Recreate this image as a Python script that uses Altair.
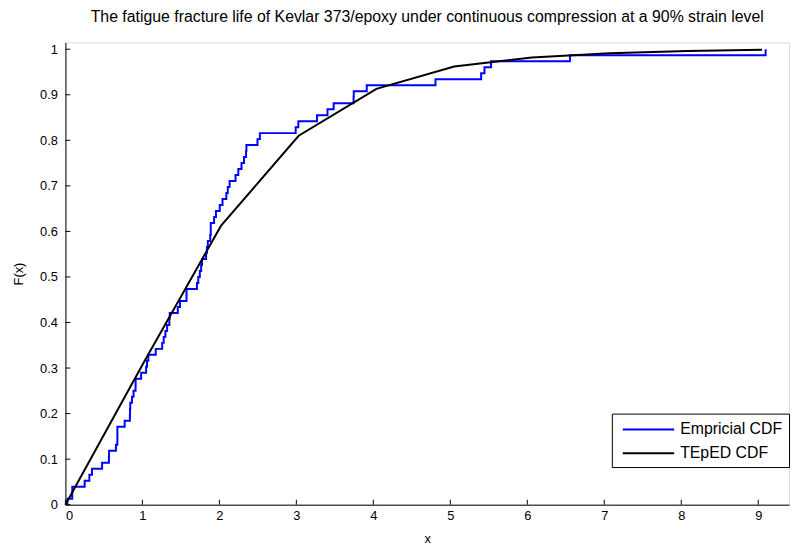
import altair as alt
import pandas as pd

# Kevlar 373/epoxy fatigue fracture life (90% strain level), sorted
fatigue_life = [
    0.0251, 0.0886, 0.0891, 0.2501, 0.3113, 0.3451, 0.4763, 0.5650, 0.5671, 0.6566,
    0.6748, 0.6751, 0.6753, 0.7696, 0.8375, 0.8391, 0.8425, 0.8645, 0.8851, 0.9113,
    0.9120, 0.9836, 1.0483, 1.0596, 1.0773, 1.1733, 1.2570, 1.2766, 1.2985, 1.3211,
    1.3503, 1.3551, 1.4595, 1.4880, 1.5728, 1.5733, 1.7083, 1.7263, 1.7460, 1.7630,
    1.7746, 1.8275, 1.8375, 1.8503, 1.8808, 1.8878, 1.8881, 1.9316, 1.9558, 2.0048,
    2.0408, 2.0903, 2.1093, 2.1330, 2.2100, 2.2460, 2.2878, 2.3203, 2.3470, 2.3513,
    2.4951, 2.5260, 2.9911, 3.0256, 3.2678, 3.4045, 3.4846, 3.7433, 3.7455, 3.9143,
    4.8073, 5.4005, 5.4435, 5.5295, 6.5541, 9.0960,
]

# fitted TEpED CDF
teped_x = [0.0, 1.01, 2.02, 3.03, 4.04, 5.05, 6.06, 7.07, 8.08, 9.05]
teped_y = [0.0, 0.31, 0.612, 0.81, 0.913, 0.962, 0.982, 0.991, 0.996, 0.999]

x_ticks = [0, 1, 2, 3, 4, 5, 6, 7, 8, 9]
y_ticks = [0.0, 0.1, 0.2, 0.3, 0.4, 0.5, 0.6, 0.7, 0.8, 0.9, 1.0]

series_names = ["Empricial CDF", "TEpED CDF"]
series_colors = ["#0000FF", "#000000"]

n = len(fatigue_life)
ecdf_x = [fatigue_life[0]] + fatigue_life
ecdf_y = [0.0] + [(i + 1) / n for i in range(n)]

ecdf_df = pd.DataFrame({"x": ecdf_x, "F": ecdf_y, "series": series_names[0]})
teped_df = pd.DataFrame({"x": teped_x, "F": teped_y, "series": series_names[1]})
xt_df = pd.DataFrame({"x": x_ticks})
yt_df = pd.DataFrame({"F": y_ticks})

W, H = 731, 467
FONT = "Liberation Sans"

x_scale = alt.Scale(domain=[0, 9.4], nice=False, zero=False)
y_scale = alt.Scale(domain=[0, 1.015], nice=False, zero=False)
color = alt.Color(
    "series:N",
    scale=alt.Scale(domain=series_names, range=series_colors),
    legend=alt.Legend(
        title=None,
        orient="none",
        legendX=552,
        legendY=375,
        direction="vertical",
        symbolType="M-3,0H3",
        symbolSize=300,
        symbolStrokeWidth=2,
        symbolOffset=21,
        labelFontSize=16,
        labelFont=FONT,
        labelColor="#000000",
        strokeColor="#000000",
        fillColor="#FFFFFF",
        padding=6,
        rowPadding=6,
        labelOffset=22,
    ),
)

x_axis = alt.Axis(
    values=x_ticks, ticks=False, grid=False, format="d",
    labelFontSize=13, labelFont=FONT, labelColor="#000000", labelPadding=5,
    domainColor="#000000", title="x", titleFontSize=13, titleFont=FONT,
    titleFontWeight="normal", titleColor="#000000", titlePadding=10,
)
y_axis = alt.Axis(
    values=y_ticks, ticks=False, grid=False, format=".1~f",
    labelFontSize=13, labelFont=FONT, labelColor="#000000", labelPadding=8,
    domainColor="#000000", title="F(x)", titleFontSize=13, titleFont=FONT,
    titleFontWeight="normal", titleColor="#000000", titlePadding=14,
)

X = alt.X("x:Q", scale=x_scale, axis=x_axis)
Y = alt.Y("F:Q", scale=y_scale, axis=y_axis)

ecdf_line = alt.Chart(ecdf_df).mark_line(interpolate="step-after", strokeWidth=2).encode(
    x=X, y=Y, color=color,
)
teped_line = alt.Chart(teped_df).mark_line(strokeWidth=2).encode(
    x=X, y=Y, color=color,
)
x_tick_marks = alt.Chart(xt_df).mark_rule(color="#000000", strokeWidth=1).encode(
    x=X,
    y=alt.value(H),
    y2=alt.value(H - 5),
)
y_tick_marks = alt.Chart(yt_df).mark_rule(color="#000000", strokeWidth=1).encode(
    y=Y,
    x=alt.value(0),
    x2=alt.value(5),
)

chart = alt.layer(ecdf_line, teped_line, x_tick_marks, y_tick_marks).properties(
    width=W,
    height=H,
    title=alt.TitleParams(
        "The fatigue fracture life of Kevlar 373/epoxy under continuous compression at a 90% strain level",
        fontSize=16, font=FONT, fontWeight="normal", color="#000000",
        anchor="middle", offset=18,
    ),
    autosize=alt.AutoSizeParams(type="none"),
    padding={"left": 58, "top": 32, "right": 3, "bottom": 40},
).configure_view(stroke="transparent", strokeWidth=0).configure(background="#FFFFFF")

chart.save("out.html", embed_options={"renderer": "svg", "actions": False})
